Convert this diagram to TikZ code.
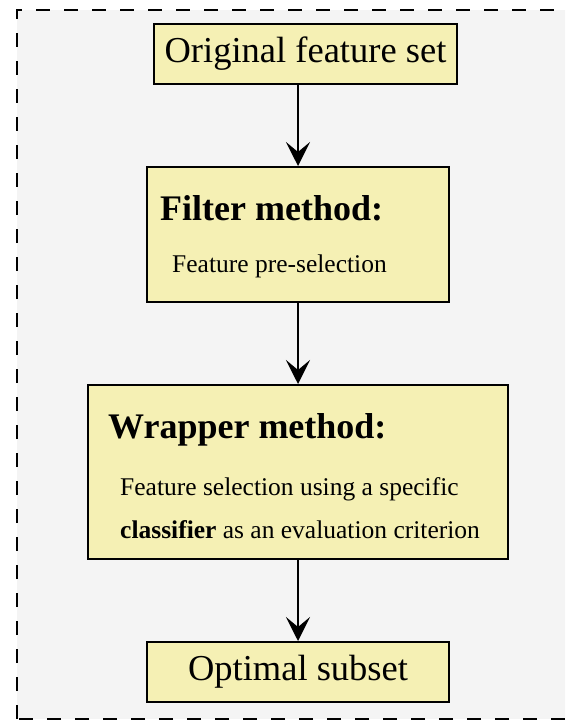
\documentclass[tikz,border=0pt]{standalone}
\usepackage{fontspec}
\setmainfont{Liberation Serif}
\usetikzlibrary{arrows.meta}
\definecolor{boxfill}{RGB}{245,240,180}
\definecolor{bggray}{RGB}{244,244,244}
\begin{document}
\begin{tikzpicture}[x=1pt,y=-1pt,
  box/.style={draw=black, fill=boxfill, line width=2pt, inner sep=0pt, rectangle},
  big/.style={font=\fontsize{36}{40}\selectfont, inner sep=0pt},
  bigb/.style={font=\fontsize{36}{40}\selectfont\bfseries, inner sep=0pt},
  small/.style={font=\fontsize{25.5}{30}\selectfont, inner sep=0pt},
  arr/.style={line width=2pt, -{Stealth[length=24pt,width=24pt,inset=10pt]}}]
\useasboundingbox (0,0) rectangle (565,722);
\begin{scope}
\clip (0,0) rectangle (565,722);
\fill[bggray] (17,10) rectangle (590,719);
\draw[line width=2.5pt, dash pattern=on 14pt off 14pt] (17,719) -- (17,10) -- (590,10) -- (590,719) -- cycle;
\end{scope}
% boxes
\node[box, minimum width=303pt, minimum height=60pt, font=\fontsize{36.5}{40}\selectfont] (orig) at (305.5,54) {Original feature set};
\node[box, minimum width=302pt, minimum height=135pt] (filt) at (298,234.5) {};
\node[box, minimum width=420pt, minimum height=174pt] (wrap) at (298,472) {};
\node[box, minimum width=302pt, minimum height=60pt, font=\fontsize{36.5}{40}\selectfont] (opt) at (298,672) {Optimal subset};
% texts
\node[bigb, anchor=base west] (t1) at (160,220) {Filter method:};
\node[small, anchor=base west] (t2) at (172,272) {Feature pre-selection};
\node[bigb, anchor=base west] (t3) at (108,438) {Wrapper method:};
\node[small, anchor=base west] (t4) at (120,495) {Feature selection using a specific};
\node[small, anchor=base west] (t5) at (120,538) {\textbf{classifier} as an evaluation criterion};
% arrows
\draw[arr] (orig.south -| filt.north) -- (filt.north);
\draw[arr] (filt.south) -- (wrap.north);
\draw[arr] (wrap.south) -- (opt.north);
\end{tikzpicture}
\end{document}
